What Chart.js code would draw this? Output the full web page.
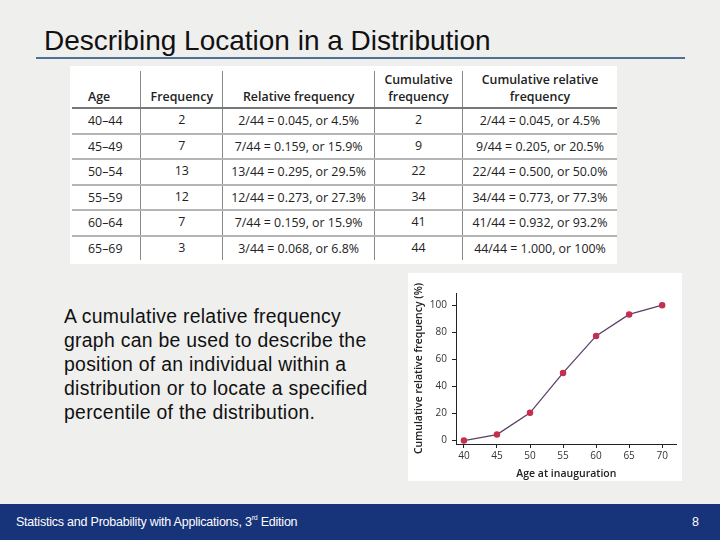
<!DOCTYPE html>
<html>
<head>
<meta charset="utf-8">
<script src="https://cdn.jsdelivr.net/npm/chart.js@4.4.0/dist/chart.umd.min.js"></script>
<style>
  html,body{margin:0;padding:0;}
  body{width:720px;height:540px;position:relative;overflow:hidden;background:#efefee;font-family:"Liberation Sans",Arial,sans-serif;}
  #title{position:absolute;left:44px;top:25px;font-size:28px;color:#111;white-space:nowrap;}
  #rule{position:absolute;left:36px;top:57px;width:649px;height:2px;background:#4f7094;}
  #tablePanel{position:absolute;left:70px;top:66px;width:547px;height:198px;background:#fff;}
  table{position:absolute;left:2px;top:5px;border-collapse:collapse;font-family:"Open Sans","Noto Sans",sans-serif;font-size:12.4px;color:#222;}
  td,th{padding:0;border-left:1px solid #8a8a8a;text-align:center;white-space:nowrap;}
  td:first-child,th:first-child{border-left:none;text-align:left;padding-left:16px;}
  th{font-weight:600;vertical-align:bottom;height:33px;border-bottom:2px solid #777;line-height:17px;padding-bottom:2px;}
  th div{height:17px;}
  td{height:23.5px;border-bottom:2px solid #b5b5b5;}
  tr:last-child td{border-bottom:none;}
  #text{position:absolute;left:64px;top:304px;font-size:19.4px;line-height:24px;color:#111;letter-spacing:0.28px;}
  #chartPanel{position:absolute;left:408px;top:273px;width:274px;height:208px;background:#fff;}
  #footer{position:absolute;left:0;top:504px;width:720px;height:36px;background:#17337a;color:#fff;font-size:12.5px;}
  #footer .l{position:absolute;left:16px;top:11px;letter-spacing:-0.22px;}
  #footer .r{position:absolute;left:692px;top:11px;}
  sup{font-size:7px;vertical-align:top;position:relative;top:-1px;}
</style>
</head>
<body>
<div id="title">Describing Location in a Distribution</div>
<div id="rule"></div>
<div id="tablePanel"><table id="tbl"></table></div>
<div id="text">A cumulative relative frequency<br>graph can be used to describe the<br>position of an individual within a<br>distribution or to locate a specified<br>percentile of the distribution.</div>
<div id="chartPanel"><canvas id="c" width="274" height="208"></canvas></div>
<div id="footer"><span class="l">Statistics and Probability with Applications, 3<sup>rd</sup> Edition</span><span class="r">8</span></div>
<script>
// ---- Table data ----
const tableHeaders = [["Age"], ["Frequency"], ["Relative frequency"], ["Cumulative", "frequency"], ["Cumulative relative", "frequency"]];
const ageClasses = ["40–44", "45–49", "50–54", "55–59", "60–64", "65–69"];
const frequencies = [2, 7, 13, 12, 7, 3];
const relativeFreqText = ["2/44 = 0.045, or 4.5%", "7/44 = 0.159, or 15.9%", "13/44 = 0.295, or 29.5%", "12/44 = 0.273, or 27.3%", "7/44 = 0.159, or 15.9%", "3/44 = 0.068, or 6.8%"];
const cumulativeFreq = [2, 9, 22, 34, 41, 44];
const cumulativeRelText = ["2/44 = 0.045, or 4.5%", "9/44 = 0.205, or 20.5%", "22/44 = 0.500, or 50.0%", "34/44 = 0.773, or 77.3%", "41/44 = 0.932, or 93.2%", "44/44 = 1.000, or 100%"];
const columnWidths = [56, 85, 154, 91, 158];

// ---- Chart data ----
const ages = [40, 45, 50, 55, 60, 65, 70];
const cumRelPercent = [0, 4.5, 20.5, 50.0, 77.3, 93.2, 100];
const xTicks = [40, 45, 50, 55, 60, 65, 70];
const yTicks = [0, 20, 40, 60, 80, 100];

// build table
const tbl = document.getElementById('tbl');
let html = '<tr>' + tableHeaders.map((h,i)=>`<th style="width:${columnWidths[i]}px">${h.map(t=>`<div>${t}</div>`).join('')}</th>`).join('') + '</tr>';
for (let i = 0; i < ageClasses.length; i++) {
  html += `<tr><td>${ageClasses[i]}</td><td style="vertical-align:top;padding-top:2px;height:21.5px">${frequencies[i]}</td><td>${relativeFreqText[i]}</td><td style="vertical-align:top;padding-top:2px;height:21.5px">${cumulativeFreq[i]}</td><td>${cumulativeRelText[i]}</td></tr>`;
}
tbl.innerHTML = html;

const tickFont = {family: "'Open Sans','Noto Sans',sans-serif", size: 10};
const titleFont = {family: "'Open Sans','Noto Sans',sans-serif", size: 10.5, weight: '600'};

new Chart(document.getElementById('c'), {
  type: 'scatter',
  data: {
    datasets: [{
      data: ages.map((a,i)=>({x:a, y:cumRelPercent[i]})),
      showLine: true,
      borderColor: '#5d4068',
      borderWidth: 1.3,
      pointBackgroundColor: '#c4304f',
      pointBorderColor: '#c4304f',
      pointRadius: 2.6,
      tension: 0
    }]
  },
  options: {
    responsive: false,
    animation: false,
    events: [],
    layout: {padding: {top: 20, right: 5, left: 0, bottom: 0}},
    plugins: {legend: {display: false}, tooltip: {enabled: false}},
    scales: {
      x: {
        type: 'linear', min: 38.8, max: 72.2,
        afterBuildTicks: s => { s.ticks = xTicks.map(v=>({value:v})); },
        afterFit: s => { s.height = 37; },
        border: {display: true, color: '#222', width: 1},
        grid: {drawOnChartArea: false, drawTicks: true, tickLength: 4, color: '#222'},
        ticks: {font: tickFont, color: '#333', padding: 2, maxRotation: 0},
        title: {display: true, text: 'Age at inauguration', font: titleFont, color: '#222', padding: {top: 0, bottom: 1}}
      },
      y: {
        type: 'linear', min: -2.5, max: 109,
        afterBuildTicks: s => { s.ticks = yTicks.map(v=>({value:v})); },
        afterFit: s => { s.width = 48; },
        border: {display: true, color: '#222', width: 1},
        grid: {drawOnChartArea: false, drawTicks: true, tickLength: 4, color: '#222'},
        ticks: {font: tickFont, color: '#333', padding: 5},
        title: {display: true, text: 'Cumulative relative frequency (%)', font: titleFont, color: '#222', padding: {top: 5, bottom: 0}}
      }
    }
  }
});
</script>
</body>
</html>
